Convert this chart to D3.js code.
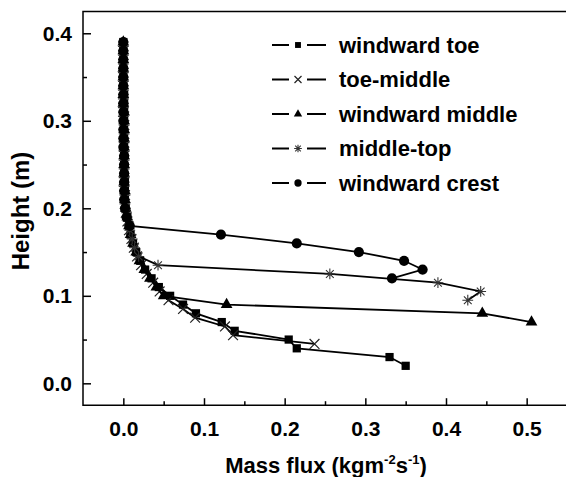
<!DOCTYPE html>
<html><head><meta charset="utf-8">
<script src="https://cdn.jsdelivr.net/npm/d3@7"></script>
<style>body{margin:0;background:#fff}svg{display:block}</style>
</head><body><svg id="c" width="566" height="477"></svg>
<script>
// ---- data ----
const xTicks = [0.0, 0.1, 0.2, 0.3, 0.4, 0.5];
const xMinor = [0.05, 0.15, 0.25, 0.35, 0.45];
const yTicks = [0.0, 0.1, 0.2, 0.3, 0.4];
const yMinor = [0.05, 0.15, 0.25, 0.35];
const seriesNames = ["windward toe", "toe-middle", "windward middle", "middle-top", "windward crest"];
const seriesMarkers = ["square", "cross", "triangle", "star", "circle"];

const toeHeight = [0.02,0.03,0.04,0.05,0.06,0.07,0.08,0.09,0.10,0.11,0.12,0.13,0.14,0.15,0.16,0.17,0.18,0.19,0.20,0.21,0.22,0.23,0.24,0.25,0.26,0.27,0.28,0.29,0.30,0.31,0.32,0.33,0.34,0.35,0.36,0.37,0.38,0.39];
const toeFlux   = [0.350,0.330,0.215,0.205,0.138,0.122,0.090,0.074,0.058,0.044,0.035,0.027,0.021,0.016,0.012,0.009,0.007,0.005,0.003,0.002,0.002,0.002,0.001,0.001,0.001,0.001,0.001,0.001,0.001,0.001,0.001,0.001,0.000,0.000,0.000,0.000,0.000,0.000];

const tmHeight = [0.045,0.055,0.065,0.075,0.085,0.095,0.105,0.115,0.125,0.135,0.145,0.155,0.165,0.175,0.185,0.195,0.205,0.215,0.225,0.235,0.245,0.255,0.265,0.275,0.285,0.295,0.305,0.315,0.325,0.335,0.345,0.355,0.365,0.375,0.385];
const tmFlux   = [0.237,0.136,0.126,0.089,0.074,0.056,0.045,0.037,0.029,0.022,0.017,0.013,0.010,0.007,0.005,0.003,0.002,0.002,0.001,0.001,0.001,0.001,0.001,0.001,0.001,0.001,0.001,0.000,0.000,0.000,0.000,0.000,0.000,0.000,0.000];

const midHeight = [0.07,0.08,0.09,0.10,0.11,0.12,0.13,0.14,0.15,0.16,0.17,0.18,0.19,0.20,0.21,0.22,0.23,0.24,0.25,0.26,0.27,0.28,0.29,0.30,0.31,0.32,0.33,0.34,0.35,0.36,0.37,0.38,0.39];
const midFlux   = [0.506,0.445,0.128,0.050,0.041,0.033,0.026,0.020,0.016,0.012,0.009,0.007,0.005,0.003,0.002,0.002,0.001,0.001,0.001,0.001,0.001,0.001,0.001,0.001,0.001,0.000,0.000,0.000,0.000,0.000,0.000,0.000,0.000];

const mtHeight = [0.095,0.105,0.115,0.125,0.135,0.145,0.155,0.165,0.175,0.185,0.195,0.205,0.215,0.225,0.235,0.245,0.255,0.265,0.275,0.285,0.295,0.305,0.315,0.325,0.335,0.345,0.355,0.365,0.375,0.385];
const mtFlux   = [0.427,0.443,0.390,0.256,0.043,0.019,0.014,0.011,0.008,0.006,0.004,0.002,0.002,0.001,0.001,0.001,0.001,0.001,0.001,0.001,0.001,0.000,0.000,0.000,0.000,0.000,0.000,0.000,0.000,0.000];

const crestHeight = [0.12,0.13,0.14,0.15,0.16,0.17,0.18,0.19,0.20,0.21,0.22,0.23,0.24,0.25,0.26,0.27,0.28,0.29,0.30,0.31,0.32,0.33,0.34,0.35,0.36,0.37,0.38,0.39];
const crestFlux   = [0.333,0.371,0.348,0.292,0.215,0.121,0.008,0.004,0.002,0.001,0.001,0.001,0.001,0.001,0.001,0.000,0.000,0.000,0.000,0.000,0.000,0.000,0.000,0.000,0.000,0.000,0.000,0.000];

const seriesHeights = [toeHeight, tmHeight, midHeight, mtHeight, crestHeight];
const seriesFluxes  = [toeFlux, tmFlux, midFlux, mtFlux, crestFlux];

// ---- chart ----
const svg = d3.select("#c");
const FONT = "'Liberation Sans', Arial, sans-serif";
const x = d3.scaleLinear().domain([-0.05, 0.55]).range([83, 567]);
const y = d3.scaleLinear().domain([-0.025, 0.425]).range([405.2, 11.4]);

function marker(g, type, s) {
  if (type === "square") {
    g.append("rect").attr("x", -s*0.42).attr("y", -s*0.42).attr("width", s*0.84).attr("height", s*0.84).attr("fill", "#000");
  } else if (type === "circle") {
    g.append("circle").attr("r", s*0.52).attr("fill", "#000");
  } else if (type === "triangle") {
    g.append("path").attr("d", d3.symbol(d3.symbolTriangle, s*s*0.62)()).attr("fill", "#000");
  } else if (type === "cross") {
    const h = s*0.5;
    g.append("path").attr("d", `M${-h},${-h}L${h},${h}M${-h},${h}L${h},${-h}`)
      .attr("stroke", "#222").attr("stroke-width", 1.2).attr("fill", "none");
  } else if (type === "star") {
    const h = s*0.55, d = h*0.72;
    g.append("path").attr("d", `M0,${-h}L0,${h}M${-h},0L${h},0M${-d},${-d}L${d},${d}M${-d},${d}L${d},${-d}`)
      .attr("stroke", "#333").attr("stroke-width", 1.1).attr("fill", "none");
  }
}

// axes
const gx = svg.append("g").attr("transform", "translate(0,405.2)")
  .call(d3.axisBottom(x).tickValues(xTicks).tickSizeInner(-7).tickSizeOuter(0).tickPadding(16).tickFormat(d3.format(".1f")));
const gxm = svg.append("g").attr("transform", "translate(0,405.2)")
  .call(d3.axisBottom(x).tickValues(xMinor).tickSizeInner(-4).tickSizeOuter(0).tickFormat(""));
const gy = svg.append("g").attr("transform", "translate(83,0)")
  .call(d3.axisLeft(y).tickValues(yTicks).tickSizeInner(-8).tickSizeOuter(0).tickPadding(11).tickFormat(d3.format(".1f")));
const gym = svg.append("g").attr("transform", "translate(83,0)")
  .call(d3.axisLeft(y).tickValues(yMinor).tickSizeInner(-4).tickSizeOuter(0).tickFormat(""));
[gx, gxm, gy, gym].forEach(g => {
  g.select(".domain").remove();
  g.selectAll("line").attr("stroke", "#000").attr("stroke-width", 1.5);
  g.selectAll("text").attr("font-family", FONT).attr("font-weight", "bold").attr("font-size", 21).attr("fill", "#000");
});

// frame
svg.append("path").attr("d", `M${x(0.55)+2},${y(0.425)}L${x(-0.05)},${y(0.425)}L${x(-0.05)},${y(-0.025)}L${x(0.55)+2},${y(-0.025)}`)
  .attr("fill", "none").attr("stroke", "#000").attr("stroke-width", 1.5);

// series
const line = d3.line().x(d => x(d[0])).y(d => y(d[1]));
seriesNames.forEach((name, i) => {
  const pts = seriesFluxes[i].map((f, j) => [f, seriesHeights[i][j]]);
  svg.append("path").attr("d", line(pts)).attr("fill", "none").attr("stroke", "#000").attr("stroke-width", 1.8);
  pts.forEach(p => {
    const g = svg.append("g").attr("transform", `translate(${x(p[0])},${y(p[1])})`);
    marker(g, seriesMarkers[i], 9.8);
  });
});

// legend
const legendTop = 45, legendStep = 34.5;
seriesNames.forEach((name, i) => {
  const ly = legendTop + i*legendStep;
  const g = svg.append("g").attr("transform", `translate(0,${ly})`);
  g.append("line").attr("x1", 272).attr("x2", 326).attr("y1", 0).attr("y2", 0).attr("stroke", "#000").attr("stroke-width", 2);
  g.append("rect").attr("x", 289).attr("y", -6).attr("width", 18).attr("height", 12).attr("fill", "#fff");
  const mg = g.append("g").attr("transform", "translate(298,0)");
  marker(mg, seriesMarkers[i], 7);
  g.append("text").attr("x", 339).attr("y", 0).attr("dy", "0.35em")
    .attr("font-family", FONT).attr("font-weight", "bold").attr("font-size", 22).text(name);
});

// axis titles
const xt = svg.append("text").attr("x", 326).attr("y", 472.5).attr("text-anchor", "middle")
  .attr("font-family", FONT).attr("font-weight", "bold").attr("font-size", 22);
xt.append("tspan").text("Mass flux (kgm");
xt.append("tspan").attr("font-size", 13).attr("dy", -9).text("-2");
xt.append("tspan").attr("dy", 9).text("s");
xt.append("tspan").attr("font-size", 13).attr("dy", -9).text("-1");
xt.append("tspan").attr("dy", 9).text(")");

svg.append("text").attr("transform", "translate(29,211) rotate(-90)").attr("text-anchor", "middle")
  .attr("font-family", FONT).attr("font-weight", "bold").attr("font-size", 24).text("Height (m)");
</script>
</body></html>
